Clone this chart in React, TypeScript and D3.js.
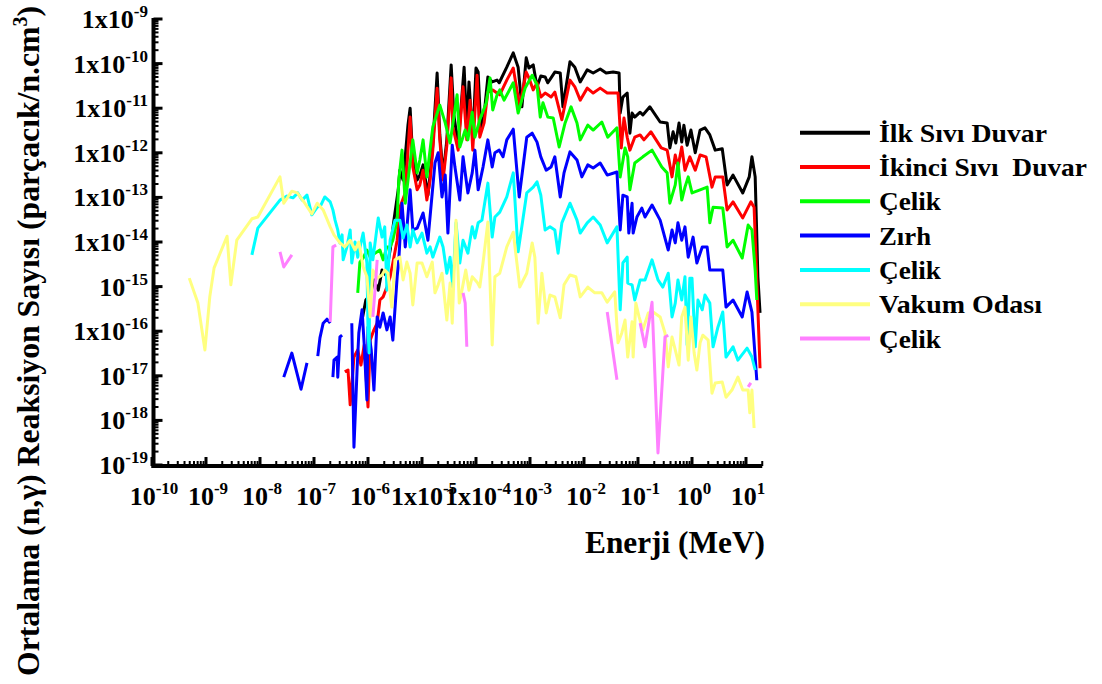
import React from "react";
import * as d3 from "d3";

type Pt = [number, number] | null;
// Each point: [log10(Enerji / MeV), log10(Reaksiyon Sayısı)] ; null = gap

const ilkSiviDuvar: Pt[] = [[-6.11,-15.75],[-6.04,-15.30],[-5.96,-15.19],[-5.89,-14.85],[-5.81,-15.08],[-5.74,-14.63],[-5.67,-14.74],[-5.59,-14.18],[-5.52,-13.51],[-5.44,-12.83],[-5.41,-12.39],[-5.35,-12.61],[-5.30,-11.94],[-5.26,-11.38],[-5.22,-11.00],[-5.17,-12.16],[-5.09,-12.61],[-5.04,-12.50],[-4.98,-12.27],[-4.89,-12.95],[-4.85,-12.50],[-4.80,-11.83],[-4.72,-10.21],[-4.67,-11.60],[-4.61,-12.50],[-4.54,-11.71],[-4.46,-10.03],[-4.41,-11.15],[-4.33,-11.83],[-4.22,-10.08],[-4.17,-11.49],[-4.13,-10.41],[-4.06,-11.71],[-4.00,-10.10],[-3.96,-10.19],[-3.91,-11.49],[-3.85,-11.15],[-3.78,-10.30],[-3.70,-10.41],[-3.61,-10.37],[-3.57,-10.43],[-3.43,-10.08],[-3.31,-9.76],[-3.22,-10.08],[-3.15,-10.97],[-3.07,-9.87],[-3.02,-10.10],[-2.94,-10.03],[-2.87,-10.52],[-2.80,-10.28],[-2.72,-10.30],[-2.67,-10.43],[-2.61,-10.32],[-2.54,-10.19],[-2.44,-10.21],[-2.39,-10.97],[-2.26,-9.96],[-2.17,-10.08],[-2.07,-10.41],[-1.94,-10.14],[-1.83,-10.21],[-1.70,-10.12],[-1.59,-10.21],[-1.46,-10.19],[-1.35,-10.21],[-1.33,-11.11],[-1.28,-10.75],[-1.20,-10.66],[-1.15,-11.56],[-1.11,-11.11],[-1.06,-11.20],[-0.96,-11.09],[-0.91,-11.15],[-0.78,-10.97],[-0.59,-11.31],[-0.46,-11.33],[-0.41,-11.89],[-0.35,-11.53],[-0.30,-11.78],[-0.24,-11.33],[-0.19,-11.76],[-0.15,-11.38],[-0.09,-11.83],[-0.02,-11.49],[0.06,-12.00],[0.15,-11.49],[0.24,-11.44],[0.33,-11.60],[0.43,-11.94],[0.56,-11.91],[0.65,-12.72],[0.76,-12.50],[0.94,-12.90],[1.06,-12.54],[1.11,-12.09],[1.17,-12.54],[1.22,-14.78],[1.26,-15.59]];

const ikinciSiviDuvar: Pt[] = [[-6.43,-16.91],[-6.37,-16.87],[-6.33,-17.65],[-6.26,-16.58],[-6.19,-16.42],[-6.13,-16.76],[-6.07,-16.31],[-6.00,-17.70],[-5.96,-16.20],[-5.89,-15.97],[-5.83,-15.82],[-5.78,-15.30],[-5.72,-15.23],[-5.65,-15.01],[-5.59,-14.78],[-5.54,-14.47],[-5.46,-13.96],[-5.41,-13.22],[-5.31,-12.90],[-5.22,-11.20],[-5.17,-12.32],[-5.09,-12.83],[-5.04,-12.72],[-4.98,-12.39],[-4.91,-13.06],[-4.85,-12.61],[-4.80,-11.94],[-4.72,-10.55],[-4.67,-11.71],[-4.61,-12.61],[-4.54,-11.83],[-4.46,-10.32],[-4.43,-11.42],[-4.33,-11.94],[-4.24,-10.52],[-4.17,-11.71],[-4.11,-10.82],[-4.06,-11.94],[-3.98,-10.26],[-3.93,-11.65],[-3.85,-11.33],[-3.78,-10.64],[-3.69,-10.59],[-3.61,-10.66],[-3.56,-10.70],[-3.43,-10.37],[-3.31,-10.10],[-3.19,-10.97],[-3.07,-10.19],[-3.02,-10.32],[-2.94,-10.59],[-2.87,-10.43],[-2.80,-10.75],[-2.72,-10.66],[-2.67,-10.70],[-2.61,-10.75],[-2.54,-10.64],[-2.41,-11.26],[-2.26,-10.37],[-2.17,-10.52],[-2.07,-10.82],[-1.94,-10.55],[-1.83,-10.66],[-1.70,-10.55],[-1.57,-10.66],[-1.37,-10.66],[-1.31,-11.89],[-1.26,-11.22],[-1.20,-11.65],[-1.15,-11.94],[-1.06,-11.65],[-0.96,-11.60],[-0.89,-11.71],[-0.76,-11.53],[-0.57,-11.89],[-0.46,-11.94],[-0.37,-12.54],[-0.31,-12.05],[-0.26,-12.32],[-0.19,-11.87],[-0.13,-12.39],[-0.04,-12.09],[0.06,-12.39],[0.15,-12.05],[0.26,-12.09],[0.37,-12.77],[0.43,-12.54],[0.57,-12.54],[0.65,-13.28],[0.76,-13.10],[0.94,-13.46],[1.09,-13.10],[1.15,-13.22],[1.20,-14.85],[1.26,-16.83]];

const celik1: Pt[] = [[-6.19,-15.14],[-6.15,-14.45],[-6.09,-14.36],[-6.02,-14.18],[-5.96,-14.34],[-5.87,-14.25],[-5.78,-14.18],[-5.72,-14.40],[-5.65,-14.11],[-5.59,-14.11],[-5.54,-13.96],[-5.46,-13.51],[-5.43,-12.61],[-5.37,-11.94],[-5.31,-13.13],[-5.17,-11.71],[-5.09,-12.45],[-5.04,-12.16],[-4.98,-11.71],[-4.91,-12.54],[-4.80,-11.42],[-4.67,-10.93],[-4.57,-11.33],[-4.48,-11.78],[-4.35,-10.70],[-4.30,-11.87],[-4.20,-11.49],[-4.15,-11.71],[-4.07,-11.09],[-4.02,-11.65],[-3.93,-11.26],[-3.81,-10.88],[-3.74,-10.32],[-3.69,-11.04],[-3.61,-10.70],[-3.56,-10.59],[-3.48,-10.82],[-3.31,-10.43],[-3.22,-11.11],[-3.09,-10.55],[-2.96,-10.26],[-2.87,-10.48],[-2.81,-11.20],[-2.76,-10.88],[-2.67,-11.20],[-2.57,-11.22],[-2.46,-11.87],[-2.35,-11.33],[-2.24,-10.97],[-2.13,-11.33],[-2.07,-11.71],[-1.93,-11.38],[-1.83,-11.49],[-1.67,-11.31],[-1.56,-11.65],[-1.39,-11.44],[-1.33,-12.54],[-1.24,-11.89],[-1.19,-12.09],[-1.15,-12.83],[-1.06,-12.23],[-0.91,-12.09],[-0.74,-11.94],[-0.56,-12.32],[-0.46,-12.45],[-0.41,-13.13],[-0.31,-12.72],[-0.26,-12.23],[-0.19,-13.06],[-0.13,-12.77],[-0.07,-12.54],[0.00,-12.90],[0.15,-12.83],[0.28,-12.77],[0.33,-13.57],[0.39,-13.22],[0.57,-13.24],[0.65,-14.11],[0.76,-13.96],[0.93,-14.36],[1.04,-13.62],[1.11,-13.73],[1.17,-14.63],[1.20,-15.30]];

const zirh: Pt[] = [[-7.56,-17.03],[-7.41,-16.49],[-7.24,-17.30],[-7.13,-16.71],null,[-6.93,-16.56],[-6.89,-16.15],[-6.83,-15.82],[-6.76,-15.73],[-6.70,-15.82],null,[-6.65,-17.03],[-6.63,-16.65],[-6.57,-16.58],[-6.56,-17.03],[-6.52,-16.13],[-6.48,-16.09],null,[-6.30,-15.82],[-6.26,-18.60],[-6.20,-16.80],[-6.17,-16.04],[-6.11,-15.52],[-6.07,-16.31],[-6.02,-17.54],[-6.00,-15.91],[-5.94,-16.42],[-5.89,-17.32],[-5.83,-15.68],[-5.78,-15.91],[-5.72,-15.59],[-5.65,-15.97],[-5.59,-15.68],[-5.54,-16.20],[-5.46,-14.78],[-5.43,-14.40],[-5.37,-13.13],[-5.31,-14.11],[-5.22,-12.83],[-5.17,-13.73],[-5.09,-13.69],[-4.98,-13.35],[-4.89,-13.96],[-4.76,-12.23],[-4.70,-12.00],[-4.63,-12.99],[-4.57,-12.50],[-4.52,-13.80],[-4.44,-11.83],[-4.39,-12.32],[-4.30,-13.06],[-4.24,-12.09],[-4.15,-12.90],[-4.07,-12.45],[-4.02,-11.94],[-3.96,-12.83],[-3.87,-12.32],[-3.78,-11.71],[-3.70,-12.32],[-3.65,-12.00],[-3.57,-11.94],[-3.50,-12.09],[-3.43,-11.71],[-3.31,-11.47],[-3.20,-12.99],[-3.06,-11.65],[-2.96,-11.56],[-2.87,-11.76],[-2.80,-12.09],[-2.70,-12.39],[-2.61,-12.32],[-2.54,-12.09],[-2.44,-12.99],[-2.37,-12.45],[-2.26,-11.98],[-2.13,-12.16],[-2.04,-12.54],[-1.93,-12.27],[-1.83,-12.34],[-1.70,-12.23],[-1.57,-12.50],[-1.39,-12.43],[-1.33,-13.73],[-1.28,-12.95],[-1.20,-12.99],[-1.17,-13.80],[-1.11,-13.13],[-1.09,-13.80],[-1.02,-13.44],[-0.93,-13.24],[-0.87,-13.44],[-0.74,-13.17],[-0.59,-13.51],[-0.44,-14.18],[-0.37,-13.73],[-0.31,-14.02],[-0.26,-13.57],[-0.19,-13.96],[-0.13,-13.66],[-0.07,-14.34],[0.02,-13.89],[0.09,-14.47],[0.19,-14.11],[0.28,-14.11],[0.33,-14.63],[0.43,-14.63],[0.57,-14.63],[0.63,-15.46],[0.76,-15.30],[0.93,-15.68],[1.02,-15.12],[1.11,-15.57],[1.20,-17.10]];

const celik2: Pt[] = [[-8.15,-14.29],[-8.04,-13.69],[-7.63,-13.06],[-7.50,-12.97],[-7.39,-13.01],[-7.30,-12.90],[-7.22,-13.06],[-7.13,-12.95],[-7.04,-13.39],[-6.94,-13.22],[-6.87,-13.17],[-6.80,-12.99],[-6.70,-13.10],[-6.65,-13.28],[-6.61,-13.51],[-6.56,-13.73],[-6.52,-14.02],[-6.48,-13.84],[-6.46,-14.40],[-6.39,-14.11],[-6.33,-13.73],[-6.30,-14.47],[-6.24,-14.00],[-6.19,-14.34],[-6.09,-13.80],[-6.02,-14.47],[-6.00,-15.97],[-5.98,-16.49],[-5.96,-14.02],[-5.91,-14.40],[-5.81,-13.46],[-5.74,-13.89],[-5.69,-13.66],[-5.65,-15.08],[-5.59,-13.96],[-5.50,-13.51],[-5.41,-13.51],[-5.35,-13.91],[-5.28,-13.62],[-5.22,-14.11],[-5.17,-13.73],[-5.09,-14.02],[-5.00,-13.80],[-4.91,-14.25],[-4.85,-14.11],[-4.80,-14.34],[-4.67,-13.89],[-4.61,-14.11],[-4.54,-14.70],[-4.48,-14.34],[-4.43,-15.01],[-4.37,-13.57],[-4.30,-14.47],[-4.24,-13.96],[-4.15,-14.25],[-4.07,-13.66],[-4.02,-13.91],[-3.96,-13.57],[-3.89,-13.51],[-3.83,-13.06],[-3.78,-12.68],[-3.70,-13.89],[-3.65,-13.44],[-3.56,-13.33],[-3.43,-12.99],[-3.31,-12.45],[-3.22,-14.22],[-3.06,-12.90],[-2.94,-12.77],[-2.87,-12.65],[-2.80,-12.95],[-2.72,-13.73],[-2.63,-13.66],[-2.54,-13.73],[-2.48,-14.25],[-2.41,-13.57],[-2.26,-13.13],[-2.13,-13.51],[-2.07,-13.80],[-1.94,-13.57],[-1.83,-13.44],[-1.70,-13.62],[-1.57,-14.02],[-1.39,-13.66],[-1.33,-15.52],[-1.28,-14.47],[-1.20,-14.34],[-1.19,-14.92],[-1.11,-14.96],[-1.06,-15.30],[-0.96,-14.85],[-0.87,-14.85],[-0.74,-14.40],[-0.63,-14.85],[-0.54,-15.01],[-0.44,-14.70],[-0.37,-15.68],[-0.31,-15.37],[-0.26,-14.85],[-0.19,-15.30],[-0.13,-14.78],[-0.09,-16.31],[-0.04,-14.81],[0.00,-14.81],[0.06,-16.35],[0.11,-15.30],[0.19,-15.52],[0.24,-15.19],[0.33,-15.37],[0.39,-16.35],[0.48,-15.91],[0.57,-15.57],[0.63,-16.58],[0.76,-16.35],[0.85,-16.65],[1.02,-16.38],[1.11,-16.58],[1.17,-16.87]];

const vakumOdasi: Pt[] = [[-9.31,-14.81],[-9.15,-15.37],[-9.02,-16.42],[-8.93,-15.23],[-8.85,-14.58],[-8.61,-13.87],[-8.54,-14.96],[-8.43,-13.96],[-8.15,-13.48],[-8.04,-13.44],[-7.63,-12.54],[-7.56,-13.13],[-7.41,-12.86],[-7.31,-12.90],[-7.17,-13.13],[-7.04,-13.37],[-6.94,-13.13],[-6.83,-13.28],[-6.70,-13.66],[-6.63,-13.84],[-6.52,-14.02],[-6.43,-14.11],[-6.33,-13.96],[-6.24,-14.18],[-6.17,-14.00],[-6.09,-14.56],[-6.02,-14.78],[-5.96,-15.68],[-5.91,-14.63],[-5.83,-14.81],[-5.74,-14.74],[-5.69,-14.63],[-5.63,-14.70],[-5.56,-15.46],[-5.50,-14.40],[-5.41,-14.34],[-5.35,-14.85],[-5.28,-14.45],[-5.22,-14.70],[-5.17,-15.41],[-5.09,-14.47],[-5.00,-14.47],[-4.91,-14.78],[-4.81,-14.45],[-4.76,-15.14],[-4.70,-14.96],[-4.63,-14.70],[-4.54,-15.75],[-4.48,-14.92],[-4.44,-15.82],[-4.37,-13.51],[-4.31,-15.37],[-4.26,-15.08],[-4.19,-14.63],[-4.13,-15.08],[-4.07,-14.78],[-3.98,-14.90],[-3.93,-15.01],[-3.87,-14.47],[-3.78,-13.55],[-3.70,-16.31],[-3.65,-14.78],[-3.56,-14.70],[-3.43,-14.11],[-3.31,-13.78],[-3.19,-15.01],[-3.06,-14.70],[-2.96,-14.02],[-2.91,-14.34],[-2.85,-15.82],[-2.78,-14.70],[-2.70,-15.59],[-2.63,-15.19],[-2.54,-15.23],[-2.44,-15.70],[-2.37,-14.96],[-2.26,-14.74],[-2.15,-14.78],[-2.07,-15.23],[-1.93,-15.01],[-1.80,-15.14],[-1.67,-15.14],[-1.57,-15.35],[-1.43,-15.12],[-1.37,-16.26],[-1.30,-16.04],[-1.24,-15.75],[-1.19,-16.58],[-1.11,-15.79],[-1.09,-16.58],[-1.04,-15.37],[-0.98,-15.68],[-0.91,-15.97],[-0.81,-15.59],[-0.72,-15.57],[-0.59,-15.68],[-0.50,-16.04],[-0.44,-16.80],[-0.37,-16.13],[-0.31,-16.42],[-0.24,-16.76],[-0.19,-15.68],[-0.13,-15.46],[-0.07,-16.65],[-0.02,-15.68],[0.04,-16.49],[0.09,-16.87],[0.15,-16.26],[0.20,-16.09],[0.30,-16.20],[0.37,-17.39],[0.43,-17.16],[0.56,-17.14],[0.63,-17.48],[0.74,-17.32],[0.85,-17.03],[0.94,-17.32],[1.04,-17.32],[1.07,-17.83],[1.11,-17.32],[1.15,-18.17]];

const celik3: Pt[] = [[-7.63,-14.22],[-7.56,-14.56],[-7.41,-14.29],null,[-6.70,-15.79],[-6.65,-14.11],[-6.59,-14.07],null,[-5.91,-15.68],[-5.87,-15.08],[-5.83,-14.40],null,[-4.24,-15.14],[-4.20,-15.37],[-4.17,-16.35],null,[-1.57,-15.57],[-1.39,-17.09],null,[-0.96,-15.82],[-0.87,-16.35],[-0.74,-15.35],[-0.63,-18.73],[-0.50,-16.13],[-0.44,-16.09],null,[1.04,-17.25],[1.09,-17.16]];

const seriesData: Pt[][] = [ilkSiviDuvar, ikinciSiviDuvar, celik1, zirh, celik2, vakumOdasi, celik3];
const seriesNames = ["İlk Sıvı Duvar", "İkinci Sıvı  Duvar", "Çelik", "Zırh", "Çelik", "Vakum Odası", "Çelik"];
const seriesColors = ["#000000", "#ff0000", "#00ff00", "#0000ff", "#00ffff", "#ffff80", "#ff80ff"];
const legendTextWidths = [168, 208, 62, 52, 62, 163, 62];

const xTickExps = [-10, -9, -8, -7, -6, -5, -4, -3, -2, -1, 0, 1];
const xTickPrefix = ["10", "10", "10", "10", "10", "1x10", "1x10", "10", "10", "10", "10", "10"];
const yTickExps = [-19, -18, -17, -16, -15, -14, -13, -12, -11, -10, -9];
const yTickPrefix = ["10", "10", "10", "1x10", "10", "1x10", "1x10", "1x10", "1x10", "1x10", "1x10"];

const FONT = "Liberation Serif";

export default function App() {
  const W = 1102, H = 684;
  const x0 = 152, decX = 54;
  const yBot = 465, yTop = 19;
  const xMax = 20;
  const x = d3.scaleLog().domain([1e-10, xMax]).range([x0, x0 + decX * (10 + Math.log10(xMax))]);
  const y = d3.scaleLog().domain([1e-19, 1e-9]).range([yBot, yTop]);

  const line = d3.line<Pt>()
    .defined((d) => d !== null)
    .x((d) => x(Math.pow(10, (d as [number, number])[0])))
    .y((d) => y(Math.pow(10, (d as [number, number])[1])));

  const xMinor: number[] = [];
  for (let e = -10; e <= 1; e++) for (let k = 2; k <= 9; k++) { const v = k * Math.pow(10, e); if (v <= xMax) xMinor.push(v); }
  const yMinor: number[] = [];
  for (let e = -19; e < -9; e++) for (let k = 2; k <= 9; k++) yMinor.push(k * Math.pow(10, e));

  const xAxisY = yBot + 1;
  const yAxisX = x0 + 1.5;
  const xEnd = x(xMax);
  const tStyle = { fontFamily: FONT, fontWeight: 700 } as React.CSSProperties;

  return (
    <svg width={W} height={H} style={{ position: "absolute", left: 0, top: 0, background: "#fff" }}>
      <rect x={0} y={0} width={W} height={H} fill="#fff" />
      {seriesData.map((s, i) => (
        <path key={i} d={line(s) || ""} fill="none" stroke={seriesColors[i]} strokeWidth={3} strokeLinejoin="round" />
      ))}
      <line x1={yAxisX} x2={yAxisX} y1={xAxisY + 2} y2={yTop - 1} stroke="#000" strokeWidth={4} />
      <line x1={yAxisX - 2} x2={xEnd} y1={xAxisY} y2={xAxisY} stroke="#000" strokeWidth={4} />
      {yTickExps.map((e) => (
        <line key={"ym" + e} x1={yAxisX} x2={yAxisX + 9} y1={y(Math.pow(10, e))} y2={y(Math.pow(10, e))} stroke="#000" strokeWidth={3} />
      ))}
      {yMinor.map((v, i) => (
        <line key={"yn" + i} x1={yAxisX} x2={yAxisX + 5} y1={y(v)} y2={y(v)} stroke="#000" strokeWidth={2} />
      ))}
      {xTickExps.map((e) => (
        <line key={"xm" + e} x1={x(Math.pow(10, e))} x2={x(Math.pow(10, e))} y1={xAxisY} y2={xAxisY - 9} stroke="#000" strokeWidth={3} />
      ))}
      {xMinor.map((v, i) => (
        <line key={"xn" + i} x1={x(v)} x2={x(v)} y1={xAxisY} y2={xAxisY - 5} stroke="#000" strokeWidth={2} />
      ))}
      {yTickExps.map((e, i) => (
        <text key={"yl" + e} x={148} y={y(Math.pow(10, e)) + 9} textAnchor="end" fontSize={26} style={tStyle}>
          {yTickPrefix[i]}
          <tspan fontSize={17} dy={-11}>{String(e)}</tspan>
        </text>
      ))}
      {xTickExps.map((e, i) => (
        <text key={"xl" + e} x={x(Math.pow(10, e)) + 2} y={505} textAnchor="middle" fontSize={26} style={tStyle}>
          {xTickPrefix[i]}
          <tspan fontSize={17} dy={-11}>{String(e)}</tspan>
        </text>
      ))}
      <text x={765} y={553} textAnchor="end" fontSize={32} textLength={180} lengthAdjust="spacingAndGlyphs" style={tStyle}>Enerji (MeV)</text>
      <text transform="translate(39,341) rotate(-90)" textAnchor="middle" fontSize={32} textLength={670} lengthAdjust="spacingAndGlyphs" style={tStyle}>
        Ortalama (n,γ) Reaksiyon Sayısı (parçacık/n.cm<tspan dy={-12} fontSize={20}>3</tspan><tspan dy={12}>)</tspan>
      </text>
      {seriesNames.map((n, i) => {
        const ry = 132.7 + i * 34.3;
        return (
          <g key={"lg" + i}>
            <line x1={800} x2={870} y1={ry} y2={ry} stroke={seriesColors[i]} strokeWidth={4} />
            <text x={879} y={ry + 9} fontSize={25} textLength={legendTextWidths[i]} lengthAdjust="spacingAndGlyphs" style={{ ...tStyle, whiteSpace: "pre" }}>{n}</text>
          </g>
        );
      })}
    </svg>
  );
}
